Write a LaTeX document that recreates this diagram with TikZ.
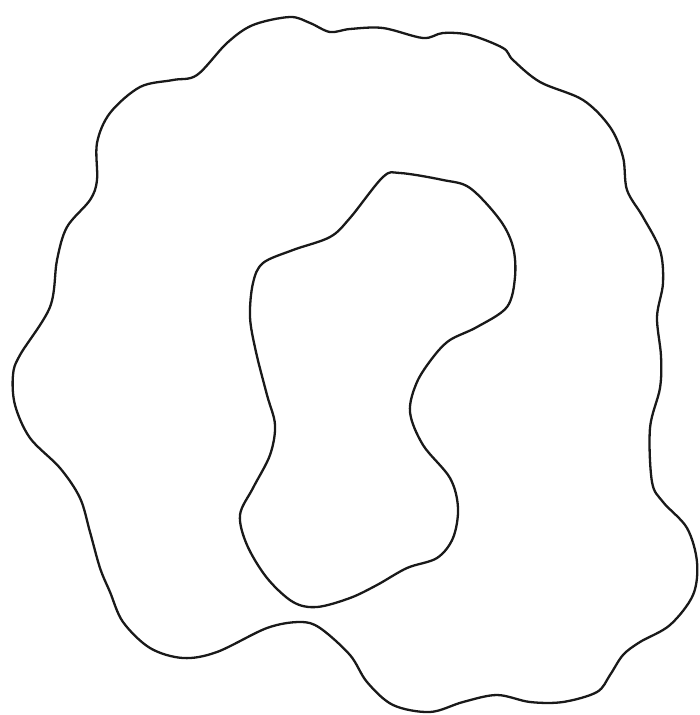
\documentclass[tikz,border=0pt]{standalone}
\definecolor{noir}{RGB}{25,25,25}
\usepackage{tikz}

\begin{document}
\begin{tikzpicture}[x=1pt,y=-1pt,courbe/.style={noir,line width=2.3pt,line join=round}]
				\useasboundingbox (0,0) rectangle (700,715);
				\draw[courbe] plot[smooth cycle,tension=0.55] coordinates {
					(20,355) (50,307) (57,260) (67,227) (90,200) (97,180) (97,143)
					(110,113) (140,87) (173,80) (197,75) (227,43) (253,25) (290,17)
					(310,23) (330,32) (350,29) (383,28) (423,38) (443,33) (470,35)
					(503,48) (513,60) (540,82) (583,100) (610,127) (623,157) (627,190)
					(643,217) (660,250) (663,283) (657,317) (661,356) (660,388) (650,428)
					(652,482) (663,502) (687,528) (697,562) (693,595) (670,625) (640,642)
					(623,655) (610,675) (597,692) (563,702) (530,702) (497,695) (463,702)
					(430,712) (393,705) (367,682) (350,655) (320,628) (300,622) (267,628)
					(217,652) (183,658) (150,648) (123,622) (110,592) (100,568) (90,532)
					(80,498) (60,468) (30,438) (15,405) (13,375)};
				
				\draw[courbe] plot[smooth cycle,tension=0.55] coordinates {
					(383,177) (400,173) (443,180) (470,188) (500,220) (513,247) (515,277)
					(507,307) (477,327) (450,340) (434,356) (417,382) (410,412) (423,445)
					(450,478) (458,508) (453,538) (437,558) (407,568) (377,585) (350,598)
					(317,607) (293,602) (267,578) (247,545) (240,515) (253,488) (270,455)
					(275,425) (267,395) (256,352) (250,317) (253,283) (263,263)
					(293,250) (330,237) (350,218)};
			\end{tikzpicture}
\end{document}
